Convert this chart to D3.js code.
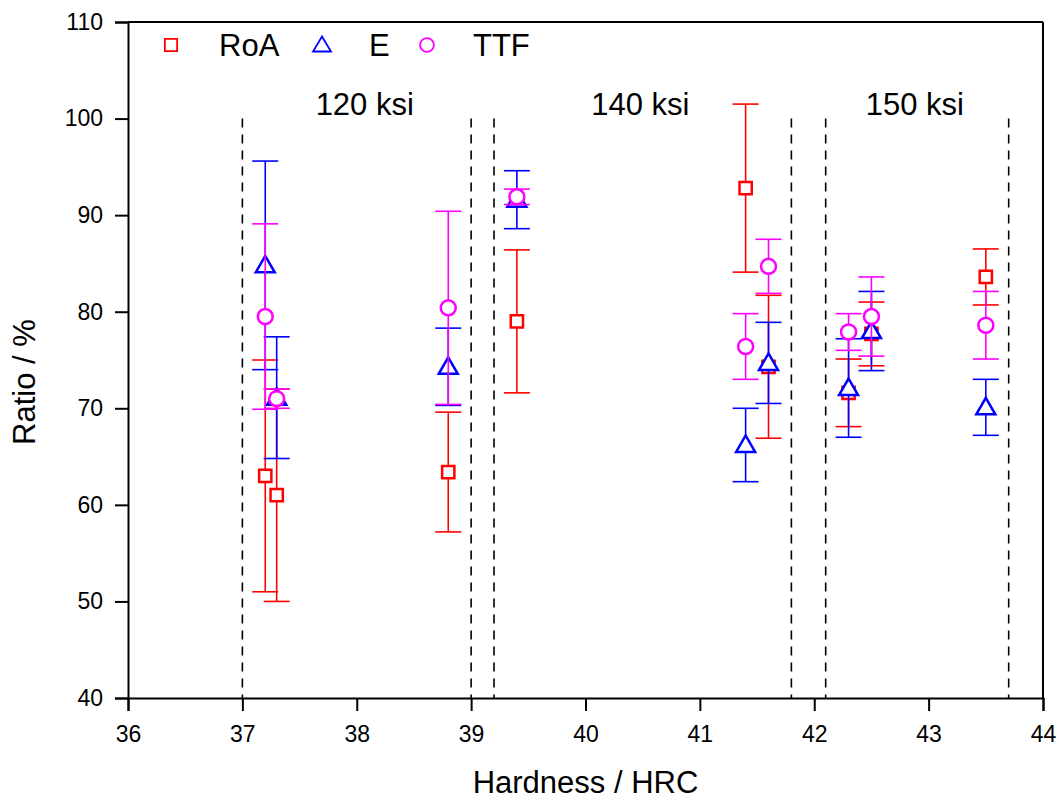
<!DOCTYPE html>
<html>
<head>
<meta charset="utf-8">
<script src="https://cdn.jsdelivr.net/npm/d3@7"></script>
<style>
  body { margin: 0; background: #fff; }
  svg { font-family: "Liberation Sans", Arial, sans-serif; }
</style>
</head>
<body>
<div id="chart"></div>
<script>
// data
var hardness = [37.2, 37.3, 38.8, 39.4, 41.4, 41.6, 42.3, 42.5, 43.5];
var roa      = [63.0, 61.0, 63.4, 79.0, 92.8, 74.3, 71.6, 77.7, 83.6];
var roaErr   = [12.0, 11.0, 6.2, 7.4, 8.7, 7.4, 3.5, 3.3, 2.9];
var elong    = [84.8, 71.1, 74.3, 91.6, 66.2, 74.7, 72.1, 78.0, 70.1];
var elongErr = [10.8, 6.3, 4.0, 3.0, 3.8, 4.2, 5.1, 4.1, 2.9];
var ttf      = [79.5, 71.0, 80.4, 91.9, 76.4, 84.7, 77.9, 79.5, 78.6];
var ttfErr   = [9.6, 1.0, 10.0, 0.8, 3.4, 2.8, 1.9, 4.1, 3.5];

var dividers = [37, 39, 39.2, 41.8, 42.1, 43.7];
var groupNames = ["120 ksi", "140 ksi", "150 ksi"];
var groupCenters = [38.07, 40.48, 42.88];

var xTicks = [36, 37, 38, 39, 40, 41, 42, 43, 44];
var yTicks = [40, 50, 60, 70, 80, 90, 100, 110];

var series = [
    { name: "RoA", values: roa, errors: roaErr, color: "#ff0000", shape: "square" },
    { name: "E", values: elong, errors: elongErr, color: "#0000ff", shape: "triangle" },
    { name: "TTF", values: ttf, errors: ttfErr, color: "#ff00ff", shape: "circle" }
];

var width = 1059, height = 801;
var margin = { left: 128, right: 16, top: 22, bottom: 103 };

var svg = d3.select("#chart").append("svg")
    .attr("width", width)
    .attr("height", height);

var x = d3.scaleLinear().domain([36, 44]).range([margin.left, width - margin.right]);
var y = d3.scaleLinear().domain([40, 110]).range([height - margin.bottom, margin.top]);

function symbolPath(shape, big) {
    if (shape === "square") return d3.symbol().type(d3.symbolSquare).size(big ? 150 : 150)();
    if (shape === "triangle") return "M0,-9.5L9.5,7L-9.5,7Z";
    return d3.symbol().type(d3.symbolCircle).size(176)();
}

// dashed dividers
svg.selectAll(".divider")
    .data(dividers)
    .enter().append("line")
    .attr("x1", function (d) { return x(d); })
    .attr("x2", function (d) { return x(d); })
    .attr("y1", y(100))
    .attr("y2", y(40))
    .attr("stroke", "#000")
    .attr("stroke-width", 1.6)
    .attr("stroke-dasharray", "9,7");

// group labels
svg.selectAll(".group")
    .data(groupNames)
    .enter().append("text")
    .attr("x", function (d, i) { return x(groupCenters[i]); })
    .attr("y", y(100.4))
    .attr("text-anchor", "middle")
    .style("font-size", "31px")
    .text(function (d) { return d; });

// series: error bars then markers
series.forEach(function (s) {
    var g = svg.append("g");
    var capW = 13;
    hardness.forEach(function (h, i) {
        var cx = x(h);
        var top = y(s.values[i] + s.errors[i]);
        var bot = y(s.values[i] - s.errors[i]);
        g.append("line").attr("x1", cx).attr("x2", cx).attr("y1", top).attr("y2", bot)
            .attr("stroke", s.color).attr("stroke-width", 1.6);
        g.append("line").attr("x1", cx - capW).attr("x2", cx + capW).attr("y1", top).attr("y2", top)
            .attr("stroke", s.color).attr("stroke-width", 1.6);
        g.append("line").attr("x1", cx - capW).attr("x2", cx + capW).attr("y1", bot).attr("y2", bot)
            .attr("stroke", s.color).attr("stroke-width", 1.6);
    });
    g.selectAll("path")
        .data(hardness)
        .enter().append("path")
        .attr("d", symbolPath(s.shape))
        .attr("transform", function (d, i) { return "translate(" + x(d) + "," + y(s.values[i]) + ")"; })
        .attr("fill", "#fff")
        .attr("stroke", s.color)
        .attr("stroke-width", 2.5);
});

// axes
var xAxis = svg.append("g").attr("transform", "translate(0," + y(40) + ")");
xAxis.call(d3.axisBottom(x).tickValues(d3.range(36.5, 44, 1)).tickSize(7).tickFormat(""));
xAxis.call(d3.axisBottom(x).tickValues(xTicks).tickSize(13).tickFormat(d3.format("d")));
xAxis.selectAll("text").style("font-size", "23px").attr("dy", "0").attr("y", 44);

var yAxis = svg.append("g").attr("transform", "translate(" + x(36) + ",0)");
yAxis.call(d3.axisLeft(y).tickValues(d3.range(45, 110, 10)).tickSize(7).tickFormat(""));
yAxis.call(d3.axisLeft(y).tickValues(yTicks).tickSize(13).tickFormat(d3.format("d")));
yAxis.selectAll("text").style("font-size", "23px").attr("x", -25);

svg.selectAll(".domain").attr("stroke-width", 2);
svg.selectAll(".tick line").attr("stroke-width", 2);

// top and right frame
svg.append("line").attr("x1", x(36)).attr("x2", x(44)).attr("y1", y(110)).attr("y2", y(110))
    .attr("stroke", "#000").attr("stroke-width", 2);
svg.append("line").attr("x1", x(44)).attr("x2", x(44)).attr("y1", y(110)).attr("y2", y(40))
    .attr("stroke", "#000").attr("stroke-width", 2);

// axis titles
svg.append("text")
    .attr("x", (x(36) + x(44)) / 2)
    .attr("y", 793)
    .attr("text-anchor", "middle")
    .style("font-size", "31px")
    .text("Hardness / HRC");

svg.append("text")
    .attr("transform", "translate(35,382) rotate(-90)")
    .attr("text-anchor", "middle")
    .style("font-size", "31px")
    .text("Ratio / %");

// legend
var legendX = [171, 322, 427];
var legendTextX = [219, 369, 473];
series.forEach(function (s, i) {
    svg.append("path")
        .attr("d", s.shape === "square" ? d3.symbol().type(d3.symbolSquare).size(150)()
            : s.shape === "triangle" ? "M0,-8.5L9,6.5L-9,6.5Z" : d3.symbol().type(d3.symbolCircle).size(150)())
        .attr("transform", "translate(" + legendX[i] + ",45)")
        .attr("fill", "none")
        .attr("stroke", s.color)
        .attr("stroke-width", 1.8);
    svg.append("text")
        .attr("x", legendTextX[i])
        .attr("y", 56)
        .style("font-size", "31px")
        .text(s.name);
});
</script>
</body>
</html>
